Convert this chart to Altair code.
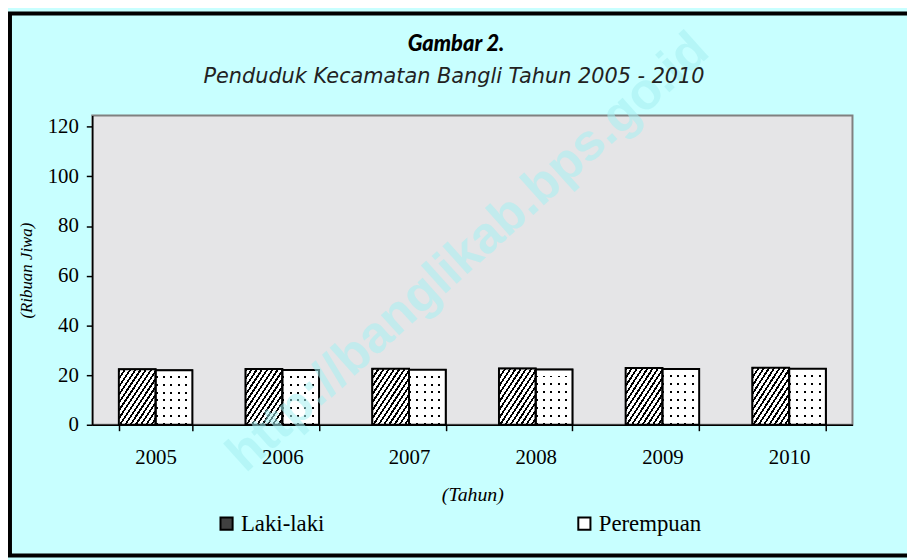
import altair as alt
import pandas as pd

# ---- data ----
years = ["2005", "2006", "2007", "2008", "2009", "2010"]
laki = [22.3, 22.4, 22.5, 22.6, 22.8, 22.9]
perempuan = [21.9, 22.0, 22.1, 22.2, 22.4, 22.5]
series = ["Laki-laki", "Perempuan"]
y_ticks = [0, 20, 40, 60, 80, 100, 120]
title_text = "Gambar 2."
subtitle_text = "Penduduk Kecamatan Bangli Tahun 2005 - 2010"
watermark_text = "http://banglikab.bps.go.id"

rows = []
for i, y in enumerate(years):
    rows.append({"Tahun": y, "Jenis": series[0], "Nilai": laki[i]})
    rows.append({"Tahun": y, "Jenis": series[1], "Nilai": perempuan[i]})
df = pd.DataFrame(rows)

W, H = 767, 312
PAD = {"left": 85, "top": 106, "right": 55, "bottom": 134}
SERIF = "Liberation Serif"


def stripes(n, frac, on, off, x2, y2):
    stops = []
    for i in range(n):
        a = i / n
        b = (i + frac) / n
        c = (i + 1) / n
        stops += [alt.GradientStop(color=on, offset=a), alt.GradientStop(color=on, offset=b),
                  alt.GradientStop(color=off, offset=b), alt.GradientStop(color=off, offset=c)]
    return alt.LinearGradient(gradient="linear", stops=stops, x1=0, y1=0, x2=x2, y2=y2)


hatch = stripes(14, 0.4, "#000000", "#ffffff", 1, 1)
dots_v = stripes(5, 0.27, "#000000", "rgba(0,0,0,0)", 1, 0)
dots_h = stripes(7, 0.75, "#ffffff", "rgba(0,0,0,0)", 0, 1)

base = alt.Chart(df).encode(
    x=alt.X("Tahun:N", sort=years,
            scale=alt.Scale(paddingInner=0.42, paddingOuter=0.21),
            axis=alt.Axis(title="(Tahun)", labelAngle=0, tickBand="extent",
                          labelPadding=16, titlePadding=17, titleFontSize=20)),
    xOffset=alt.XOffset("Jenis:N", sort=series,
                        scale=alt.Scale(paddingInner=0, paddingOuter=0)),
    y=alt.Y("Nilai:Q", scale=alt.Scale(domain=[0, 124.5], nice=False, zero=True),
            axis=alt.Axis(title="(Ribuan Jiwa)", values=y_ticks, labelPadding=8,
                          titlePadding=12, titleFontSize=17)),
)

legend_bars = base.mark_bar(stroke="black", strokeWidth=1.5).encode(
    color=alt.Color("Jenis:N", sort=series,
                    scale=alt.Scale(domain=series, range=["#404040", "#ffffff"]),
                    legend=alt.Legend(title=None, orient="none", direction="horizontal",
                                      legendX=124, legendY=400, symbolType="square",
                                      symbolSize=150, symbolStrokeColor="black",
                                      symbolStrokeWidth=2, symbolOpacity=1,
                                      labelFont=SERIF, labelFontSize=23, labelColor="black",
                                      columnPadding=250, labelOffset=3))
)

is_l = alt.datum.Jenis == "Laki-laki"
is_p = alt.datum.Jenis == "Perempuan"

hatch_bars = base.transform_filter(is_l).mark_bar(fill=hatch)
dot_a = base.transform_filter(is_p).mark_bar(fill="#ffffff")
dot_b = base.transform_filter(is_p).mark_bar(fill=dots_v)
dot_c = base.transform_filter(is_p).mark_bar(fill=dots_h)
outline = base.mark_bar(fillOpacity=0, stroke="black", strokeWidth=2)

one = pd.DataFrame({"k": [0]})
watermark = alt.Chart(one).mark_text(
    text=watermark_text, angle=318, fontSize=52, fontWeight="bold",
    font="Liberation Sans", color="#a6f0f2", opacity=0.55
).encode(x=alt.value(379), y=alt.value(138))

title_mark = alt.Chart(one).mark_text(
    text=title_text, font="Lato", fontSize=22, fontWeight=900, fontStyle="italic",
    color="black", align="center", baseline="middle"
).encode(x=alt.value(367), y=alt.value(-72))

subtitle_mark = alt.Chart(one).mark_text(
    text=subtitle_text, font="DejaVu Sans", fontSize=21, fontWeight=200,
    fontStyle="italic", color="#222222", align="center", baseline="middle"
).encode(x=alt.value(365), y=alt.value(-39))

border = alt.Chart(one).mark_rect(fillOpacity=0, stroke="black", strokeWidth=4).encode(
    x=alt.value(-83), x2=alt.value(900), y=alt.value(-103), y2=alt.value(444)
)

chart = alt.layer(
    legend_bars, hatch_bars, dot_a, dot_b, dot_c, outline, watermark,
    title_mark, subtitle_mark, border
).properties(
    width=W, height=H, padding=PAD, autosize=alt.AutoSizeParams(type="none"),
).configure(
    background="#c8ffff",
).configure_view(
    fill="#e5e5e7", stroke="#808080", strokeWidth=2,
).configure_axis(
    labelFont=SERIF, labelFontSize=21, labelColor="black",
    titleFont=SERIF, titleFontStyle="italic", titleFontWeight="normal",
    titleColor="black", domainColor="black", domainWidth=1.5, tickColor="black",
    tickWidth=1.5, tickSize=6, grid=False,
)

chart.save("out.html", embed_options={"renderer": "svg", "actions": False})
